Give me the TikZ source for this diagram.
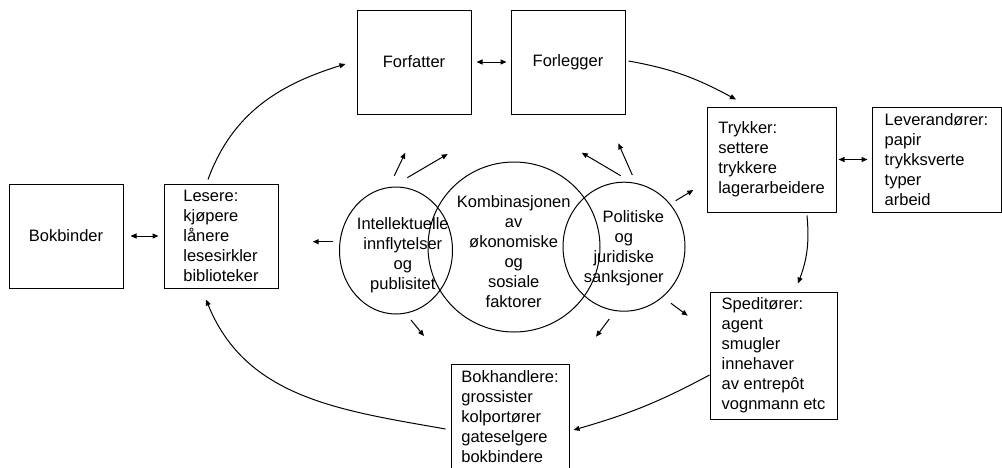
\documentclass[tikz,border=0pt]{standalone}
\usepackage{fontspec}
\setmainfont{Liberation Sans}
\usetikzlibrary{arrows.meta,shapes.geometric}
\begin{document}
\begin{tikzpicture}[x=1pt,y=-1pt,
  every node/.style={font=\fontsize{16.5}{20}\selectfont},
  box/.style={draw,line width=1pt,inner sep=0pt,align=left},
  ring/.style={draw,ellipse,line width=1pt,inner sep=0pt},
  lbl/.style={align=center,inner sep=0pt},
  arr/.style={line width=1pt,-{Triangle[length=6pt,width=5pt]}},
  darr/.style={line width=1pt,{Triangle[length=6pt,width=5pt]}-{Triangle[length=6pt,width=5pt]}}]
\useasboundingbox (0,0) rectangle (1002,467);

% boxes
\node[box,minimum width=114pt,minimum height=104pt] (forfatter) at (414,62) {Forfatter};
\node[box,minimum width=114pt,minimum height=104pt] (forlegger) at (568,62) {Forlegger};
\node[box,minimum width=114pt,minimum height=104pt] (bokbinder) at (66,236) {Bokbinder};
\node[box,minimum width=114pt,minimum height=104pt] (lesere) at (221,236) {Lesere:\\kjøpere\\lånere\\lesesirkler\\biblioteker};
\node[box,minimum width=129pt,minimum height=105pt] (trykker) at (771.5,159.5) {Trykker:\\settere\\trykkere\\lagerarbeidere};
\node[box,minimum width=129pt,minimum height=105pt] (leverandorer) at (936.5,159.5) {Leverandører:\\papir\\trykksverte\\typer\\arbeid};
\node[box,minimum width=127pt,minimum height=127pt] (speditorer) at (773.5,355.5) {Speditører:\\agent\\smugler\\innehaver\\av entrepôt\\vognmann etc};
\node[box,minimum width=118pt,minimum height=106pt] (bokhandlere) at (510,417) {Bokhandlere:\\grossister\\kolportører\\gateselgere\\bokbindere};

% circles
\node[ring,minimum width=113pt,minimum height=127pt] (intel) at (396,250.5) {};
\node[ring,minimum width=172pt,minimum height=170pt] (komb) at (514,247) {};
\node[ring,minimum width=122pt,minimum height=129pt] (polit) at (624,246.7) {};
\node[lbl] (inteltxt) at (402.8,255.5) {Intellektuelle\\innflytelser\\og\\publisitet};
\node[lbl] (kombtxt) at (513.7,251.3) {Kombinasjonen\\av\\økonomiske\\og\\sosiale\\faktorer};
\node[lbl] (polittxt) at (623.8,248) {\hspace*{19pt}Politiske\\og\\juridiske\\sanksjoner};

% double arrows
\draw[darr,shorten <=5pt,shorten >=4pt] (forfatter.east) -- (forlegger.west);
\draw[darr,shorten <=7pt,shorten >=5pt] (bokbinder.east) -- (lesere.west);
\draw[darr,shorten <=2pt,shorten >=4pt] (trykker.east) -- (leverandorer.west);

% cycle arrows
\draw[arr] ([xshift=-13pt,yshift=4pt]lesere.north) .. controls (232.1,113.7) and (278.5,84.6) .. ([xshift=-11pt,yshift=-2pt]forfatter.west);
\draw[arr] ([xshift=3pt,yshift=1pt]forlegger.east) .. controls (672.3,68.8) and (696.6,78.2) .. ([xshift=-35.5pt,yshift=7pt]trykker.north);
\draw[arr] ([xshift=35.5pt,yshift=-3pt]trykker.south) .. controls (809.4,242.1) and (807.3,258.4) .. ([xshift=24.5pt,yshift=8pt]speditorer.north);
\draw[arr] ([yshift=-19.5pt]speditorer.west) .. controls (659,402.1) and (628.5,414.1) .. ([xshift=4pt,yshift=-13pt]bokhandlere.east);
\draw[arr] ([xshift=-5pt,yshift=-12pt]bokhandlere.west) .. controls (340.6,410.4) and (246,398.2) .. ([xshift=-15pt,yshift=-11pt]lesere.south);

% small arrows around the circles
\draw[arr] (394.3,175.7) -- (405.3,152.7);
\draw[arr] (407.3,177.7) -- (447.7,154);
\draw[arr] (620.7,175.7) -- (581.7,152.7);
\draw[arr] (632.3,175) -- (618.3,143.3);
\draw[arr] (675.7,200.7) -- (693.3,190);
\draw[arr] (333.3,241.7) -- (312.7,241.7);
\draw[arr] (411,320) -- (424,336);
\draw[arr] (609.3,319) -- (596,336.7);
\draw[arr] (671,303.3) -- (687.7,315.7);
\end{tikzpicture}
\end{document}
